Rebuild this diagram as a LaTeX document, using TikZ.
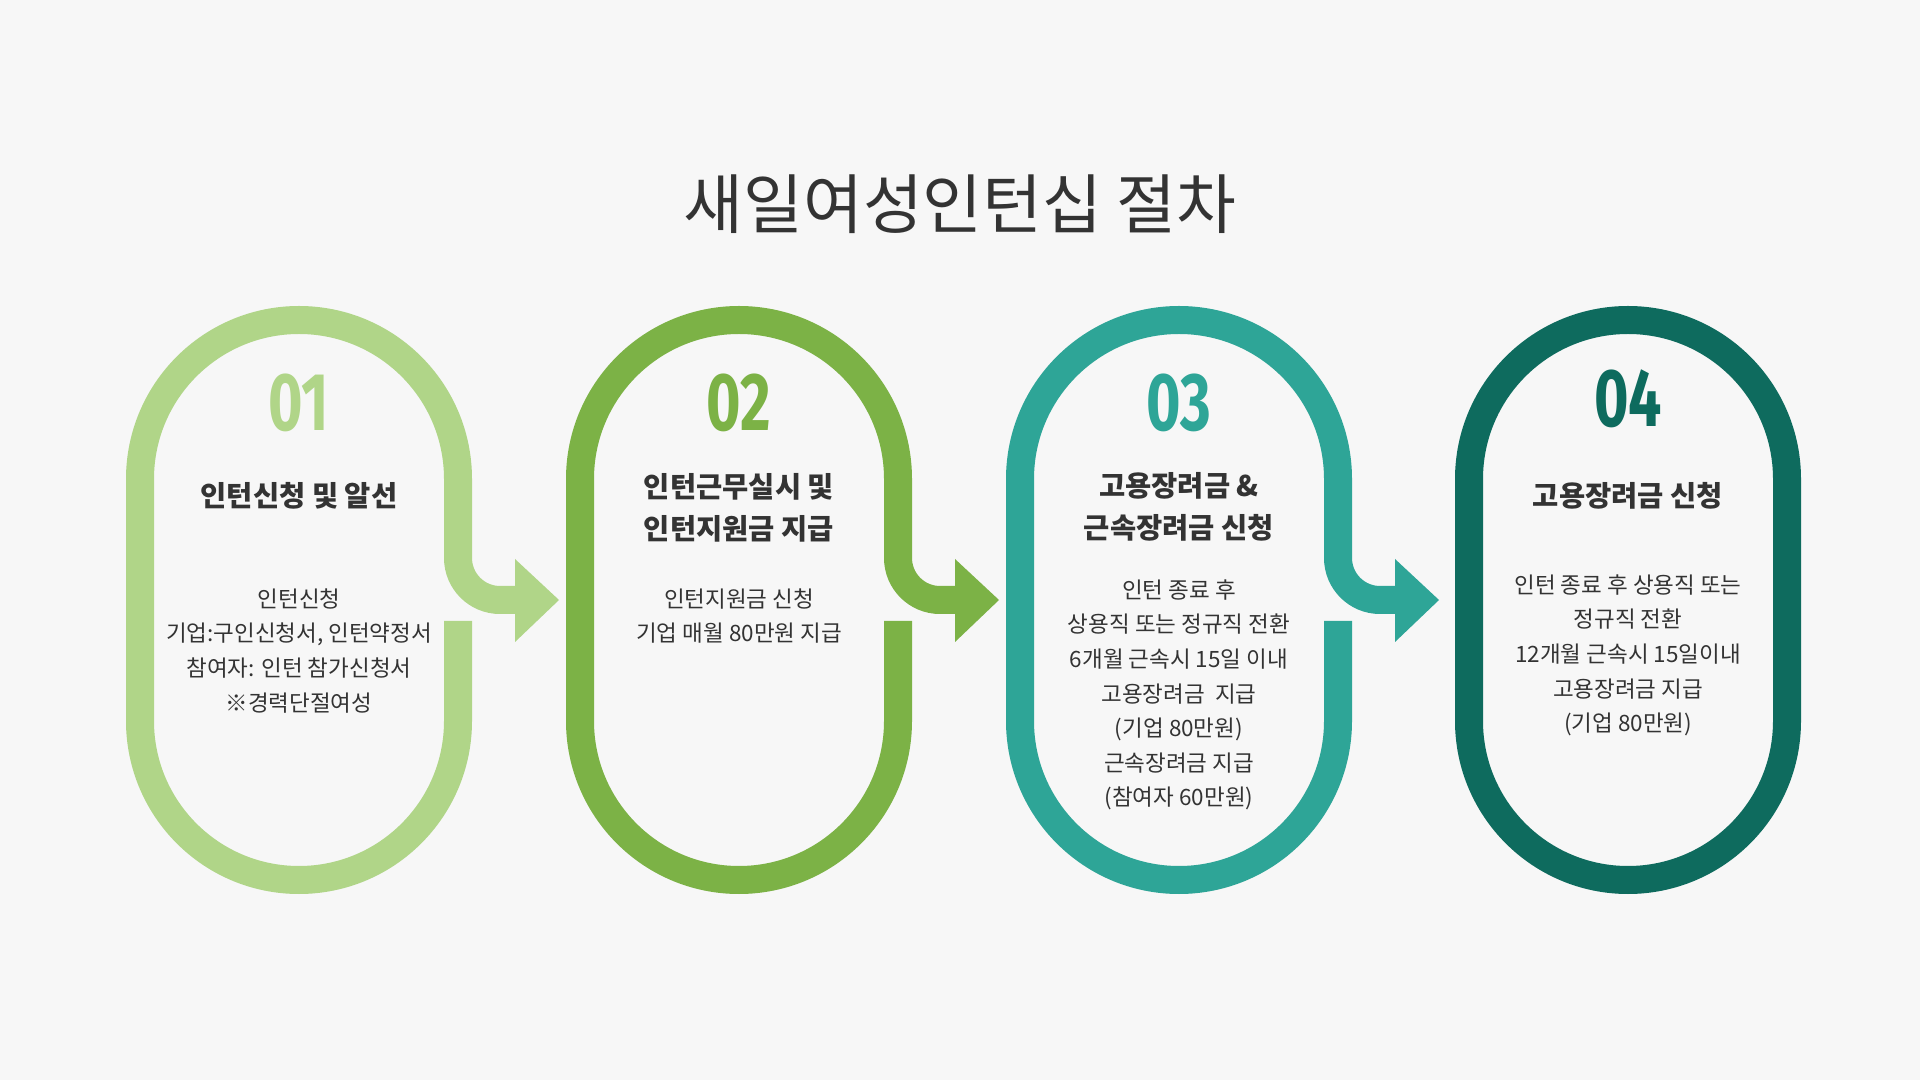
\documentclass[tikz,border=0pt]{standalone}
\usepackage{fontspec}
\setmainfont{Noto Sans CJK KR}
\newfontfamily\numfont{Fira Sans}
\begin{document}
\begin{tikzpicture}[x=1pt,y=1pt,
  ring/.style={line width=28pt,line cap=butt},
  num/.style={font=\fontsize{82}{82}\selectfont\numfont\bfseries},
  head/.style={font=\fontsize{28.5}{42}\selectfont\bfseries,text=txt,align=center},
  body/.style={font=\fontsize{22.5}{34.6}\selectfont,text=txt,align=center}]
\definecolor{bg}{HTML}{F7F7F7}
\definecolor{txt}{HTML}{333333}
\definecolor{ca}{HTML}{B0D588}
\definecolor{cb}{HTML}{7CB246}
\definecolor{cc}{HTML}{2EA597}
\definecolor{cd}{HTML}{0E6B5E}
\fill[bg] (0,0) rectangle (1920,1080);
\useasboundingbox (0,0) rectangle (1920,1080);
\foreach \L/\c in {140/ca,580/cb,1020/cc}{
  \pgfmathsetmacro\R{\L+318}
  \draw[ring,\c] (\R,459) -- (\R,359) arc[start angle=0,end angle=-180,radius=159]
    -- (\L,601) arc[start angle=180,end angle=0,radius=159]
    -- (\R,522) arc[start angle=180,end angle=270,radius=42] -- ({\R+58},480);
  \fill[\c] ({\R+57},521) -- ({\R+101},480) -- ({\R+57},438) -- cycle;
}
\draw[ring,cd] (1469,601) arc[start angle=180,end angle=0,radius=159] -- (1787,359)
  arc[start angle=0,end angle=-180,radius=159] -- cycle;
\node[font=\fontsize{65}{65}\selectfont,text=txt] (title) at (960,876) {새일여성인턴십 절차};
\node[num,text=ca] (n1) at (299,677) {\scalebox{0.72}[1]{01}};
\node[num,text=cb] (n2) at (739,677) {\scalebox{0.72}[1]{02}};
\node[num,text=cc] (n3) at (1179,677) {\scalebox{0.72}[1]{03}};
\node[num,text=cd] (n4) at (1628,681) {\scalebox{0.72}[1]{04}};
\node[head] (h1) at (299,584) {인턴신청 및 알선};
\node[head] (h2) at (739,572) {인턴근무실시 및\\인턴지원금 지급};
\node[head] (h3) at (1179,573) {고용장려금 \&\\근속장려금 신청};
\node[head] (h4) at (1628,584) {고용장려금 신청};
\node[body,anchor=north] (b1) at (299,495) {인턴신청\\기업:구인신청서, 인턴약정서\\참여자: 인턴 참가신청서\\※경력단절여성};
\node[body,anchor=north] (b2) at (739,495) {인턴지원금 신청\\기업 매월 80만원 지급};
\node[body,anchor=north] (b3) at (1179,504) {인턴 종료 후\\상용직 또는 정규직 전환\\6개월 근속시 15일 이내\\고용장려금 \ 지급\\(기업 80만원)\\근속장려금 지급\\(참여자 60만원)};
\node[body,anchor=north] (b4) at (1628,509) {인턴 종료 후 상용직 또는\\정규직 전환\\12개월 근속시 15일이내\\고용장려금 지급\\(기업 80만원)};
\end{tikzpicture}
\end{document}
